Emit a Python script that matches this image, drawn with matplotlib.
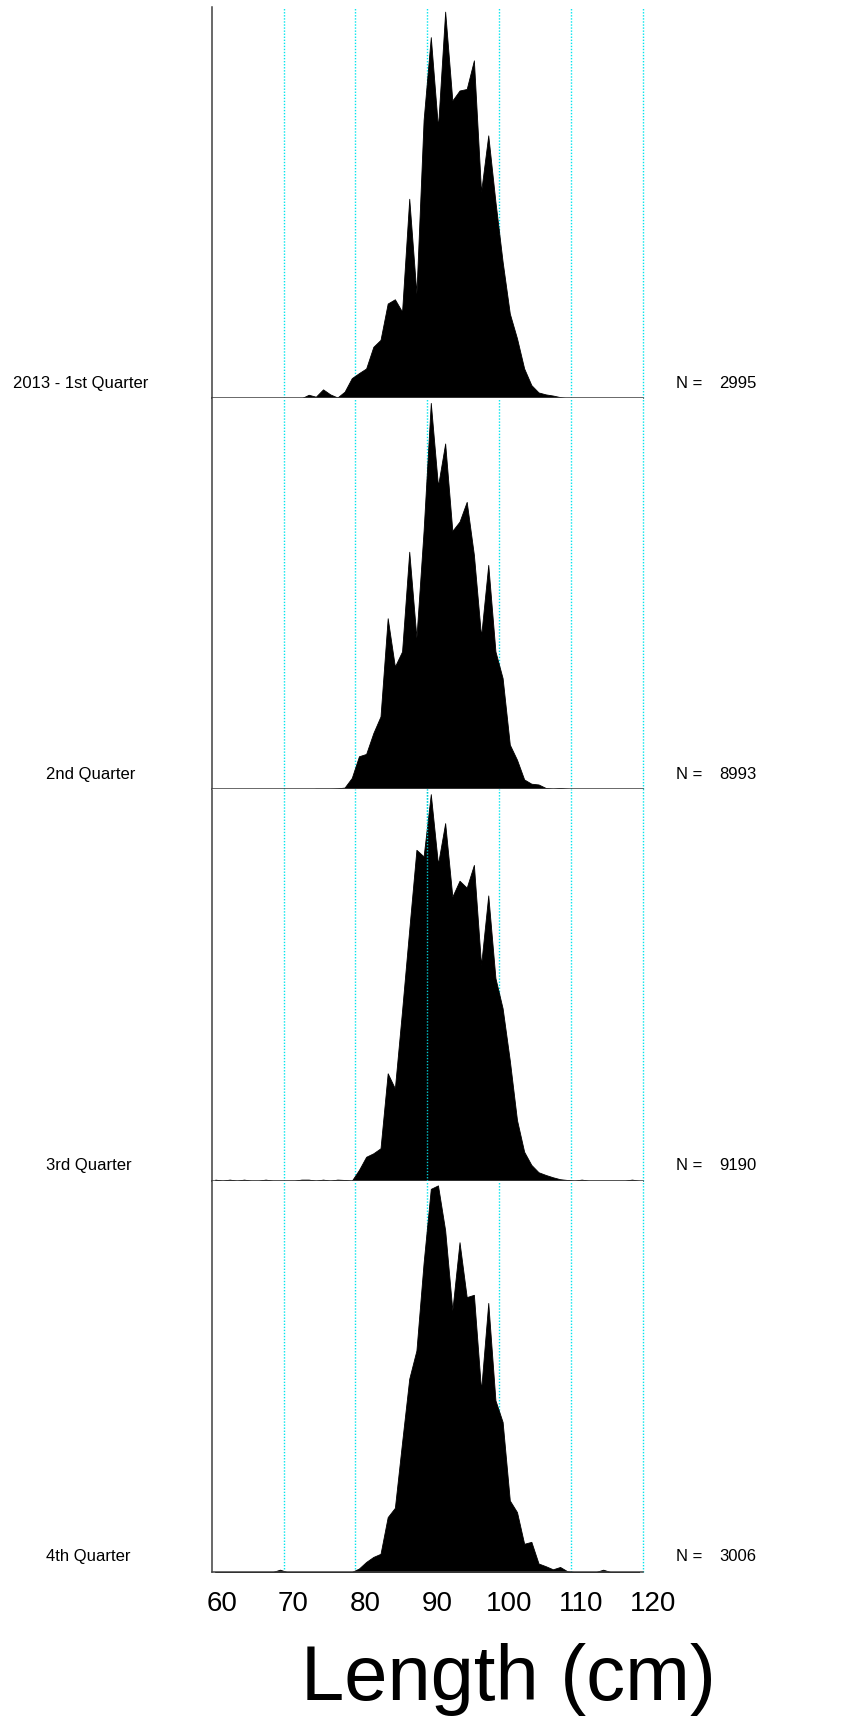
import numpy as np
import matplotlib
matplotlib.use("Agg")
import matplotlib.pyplot as plt
from matplotlib.transforms import ScaledTranslation, blended_transform_factory

plt.rcParams['font.family'] = ['Liberation Sans', 'DejaVu Sans']

# length classes (lower bound, cm); drawn at the class midpoint
length_lo = np.arange(60, 120)

# relative frequency per 1 cm class, scaled so the tallest class = 1000
q1 = [0, 0, 0, 0, 0, 0, 0, 0, 0, 0,
      0, 0, 0, 9, 4, 23, 10, 2, 17, 52,
      65, 77, 133, 151, 245, 256, 224, 516, 271, 720,
      934, 700, 1000, 770, 796, 800, 874, 534, 680, 508,
      353, 219, 155, 77, 34, 15, 10, 7, 3, 0,
      0, 0, 0, 0, 0, 0, 0, 0, 0, 0]
q2 = [0, 0, 0, 0, 0, 0, 0, 0, 0, 0,
      0, 0, 0, 0, 2, 2, 2, 3, 5, 30,
      86, 92, 146, 189, 443, 318, 357, 615, 393, 670,
      1000, 785, 895, 669, 693, 744, 607, 396, 581, 357,
      288, 116, 77, 26, 15, 13, 4, 2, 4, 2,
      0, 0, 0, 0, 0, 0, 0, 0, 0, 0]
q3 = [3, 0, 3, 0, 3, 0, 0, 3, 0, 0,
      0, 0, 3, 3, 0, 3, 0, 3, 2, 0,
      28, 62, 71, 84, 278, 239, 440, 650, 856, 839,
      1000, 819, 925, 735, 776, 758, 817, 558, 738, 524,
      446, 311, 157, 75, 41, 22, 15, 9, 4, 2,
      0, 3, 0, 0, 0, 0, 0, 0, 3, 0]
q4 = [0, 0, 0, 0, 0, 0, 0, 0, 0, 6,
      0, 0, 0, 0, 0, 0, 0, 0, 0, 0,
      9, 26, 39, 47, 142, 166, 335, 500, 573, 800,
      991, 1000, 884, 677, 853, 711, 717, 470, 696, 444,
      388, 185, 155, 73, 78, 22, 15, 7, 13, 2,
      0, 0, 0, 0, 6, 0, 0, 0, 0, 0]

quarters = [q1, q2, q3, q4]
quarter_labels = ["2013 - 1st Quarter", "2nd Quarter", "3rd Quarter", "4th Quarter"]
n_fish = [2995, 8993, 9190, 3006]
grid_at = [70, 80, 90, 100, 110, 120]
tick_vals = [60, 70, 80, 90, 100, 110, 120]

W, H = 866, 1716
fig, axes = plt.subplots(4, 1, figsize=(W / 100, H / 100), dpi=100, sharex=True)
fig.subplots_adjust(left=211.7 / W, right=642.7 / W, top=1 - 7 / H,
                    bottom=1 - 1572 / H, hspace=0)

mid = length_lo + 0.5
for i, (ax, vals) in enumerate(zip(axes, quarters)):
    ax.fill_between(mid, vals, 0, color='black', lw=0.6, zorder=1)
    for g in grid_at:
        ax.axvline(g, color='#00e5ee', lw=1.0, ls=(0, (1, 1.2)), zorder=0.5,
                   clip_on=False)
    if i == 2:
        # in this panel the 90 cm line shows through the fill
        ax.axvline(90, color='#00c8d0', lw=1.0, ls=(0, (1, 1.2)), zorder=3)
    ax.set_xlim(60, 120)
    ax.set_ylim(0, 1012)
    for s in ['top', 'right']:
        ax.spines[s].set_visible(False)
    for s in ['left', 'bottom']:
        ax.spines[s].set_color('#404040')
        ax.spines[s].set_linewidth(1.1)
    ax.set_yticks([])
    ax.tick_params(axis='x', length=0)

    tr = blended_transform_factory(fig.transFigure, ax.transAxes)
    lx = 13 / W if i == 0 else 46 / W
    ax.text(lx, 10.5 / 391, quarter_labels[i], transform=tr, fontsize=12,
            ha='left', va='baseline')
    ax.text(676 / W, 10.5 / 391, "N =", transform=tr, fontsize=12,
            ha='left', va='baseline')
    ax.text(719 / W, 10.5 / 391, str(n_fish[i]), transform=tr, fontsize=12,
            ha='left', va='baseline')

bottom = axes[-1]
bottom.set_xticks(tick_vals)
bottom.set_xticklabels([str(v) for v in tick_vals], fontsize=20)
bottom.tick_params(axis='x', pad=14)
shift = ScaledTranslation(10 / 100, 0, fig.dpi_scale_trans)
for lab in bottom.get_xticklabels():
    lab.set_transform(lab.get_transform() + shift)

fig.text(508 / W, 1 - 1700 / H, "Length (cm)", fontsize=56,
         ha='center', va='baseline')

fig.savefig("out.png", dpi=100, facecolor='white')
